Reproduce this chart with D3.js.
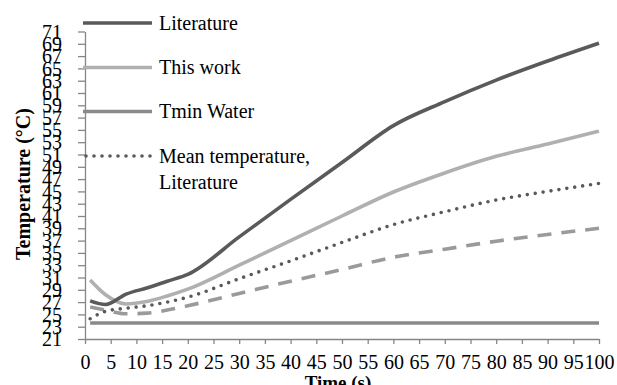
<!DOCTYPE html>
<html>
<head>
<meta charset="utf-8">
<script src="https://cdn.jsdelivr.net/npm/d3@7"></script>
<style>
  body { margin: 0; background: #fff; }
</style>
</head>
<body>
<div id="chart"></div>
<script>
// values
var timeLit = [1, 4, 8, 12, 16, 20, 30, 40, 50, 60, 70, 80, 90, 100];
var literature = [27.2, 26.6, 28.3, 29.3, 30.4, 31.5, 37.6, 43.7, 49.7, 55.7, 59.6, 63.1, 66.2, 69.1];
var thisWork = [30.6, 28.2, 26.7, 27.1, 28.0, 29.1, 33.0, 37.0, 41.0, 44.9, 48.0, 50.7, 52.7, 54.8];
var meanLit = [24.3, 25.5, 26.0, 26.4, 27.0, 27.8, 30.8, 33.7, 36.7, 39.6, 41.7, 43.6, 45.0, 46.3];
var meanWork = [26.2, 25.7, 25.1, 25.2, 25.7, 26.4, 28.4, 30.4, 32.3, 34.3, 35.6, 36.9, 38.0, 39.0];
var tminTime = [1, 100];
var tminWater = [23.6, 23.6];
var xTicks = d3.range(0, 101, 5);
var yTicks = d3.range(21, 72, 2);

var width = 617, height = 385;
var FONT = "'Liberation Serif', 'Times New Roman', Times, serif";

var svg = d3.select("#chart").append("svg")
    .attr("width", width)
    .attr("height", height);

var x = d3.scaleLinear().domain([0, 100]).range([85, 599]);
var y = d3.scaleLinear().domain([21, 71]).range([339, 31.5]);

// axes
var xAxis = svg.append("g")
    .attr("transform", "translate(0,339)")
    .call(d3.axisBottom(x).tickValues(xTicks).tickSize(5).tickSizeOuter(0).tickPadding(6));
xAxis.attr("font-family", null);
xAxis.selectAll("text").style("font-size", "20px").attr("dy", "0.95em");

var yAxis = svg.append("g")
    .attr("transform", "translate(85,0)")
    .call(d3.axisLeft(y).tickValues(yTicks).tickSize(7).tickSizeOuter(0).tickPadding(16));
yAxis.attr("font-family", null);
yAxis.selectAll("text").style("font-size", "20px").attr("dy", "0.33em");

svg.selectAll(".domain, .tick line").attr("stroke", "#868686").attr("stroke-width", 1.3);

svg.append("text")
    .attr("x", 338)
    .attr("y", 389)
    .attr("text-anchor", "middle")
    .style("font-size", "19px")
    .style("font-weight", "bold")
    .text("Time (s)");

svg.append("text")
    .attr("transform", "translate(30,184) rotate(-90)")
    .attr("text-anchor", "middle")
    .style("font-size", "20px")
    .style("font-weight", "bold")
    .text("Temperature (°C)");

// series
var series = [
    { t: tminTime, v: tminWater, color: "#8a8a8a", dash: null, cap: "butt" },
    { t: timeLit, v: meanWork, color: "#9a9a9a", dash: "14,10", cap: "butt" },
    { t: timeLit, v: meanLit, color: "#595959", dash: "0,8", cap: "round" },
    { t: timeLit, v: thisWork, color: "#b0b0b0", dash: null, cap: "butt" },
    { t: timeLit, v: literature, color: "#5a5a5a", dash: null, cap: "butt" }
];

var line = d3.line()
    .x(function(d) { return x(d[0]); })
    .y(function(d) { return y(d[1]); })
    .curve(d3.curveMonotoneX);

series.forEach(function(s) {
    svg.append("path")
        .datum(d3.zip(s.t, s.v))
        .attr("fill", "none")
        .attr("stroke", s.color)
        .attr("stroke-width", 3.6)
        .attr("stroke-linecap", s.cap)
        .attr("stroke-linejoin", "round")
        .attr("stroke-dasharray", s.dash)
        .attr("d", line);
});

// legend
var legend = [
    { label: ["Literature"], color: "#5a5a5a", dash: null, cap: "butt", y: 23 },
    { label: ["This work"], color: "#b0b0b0", dash: null, cap: "butt", y: 67.5 },
    { label: ["Tmin Water"], color: "#8a8a8a", dash: null, cap: "butt", y: 111.5 },
    { label: ["Mean temperature,", "Literature"], color: "#595959", dash: "0,8", cap: "round", y: 156 }
];

legend.forEach(function(l) {
    svg.append("line")
        .attr("x1", l.cap === "round" ? 86 : 83)
        .attr("x2", 152)
        .attr("y1", l.y)
        .attr("y2", l.y)
        .attr("stroke", l.color)
        .attr("stroke-width", 3.6)
        .attr("stroke-linecap", l.cap)
        .attr("stroke-dasharray", l.dash);
    l.label.forEach(function(txt, i) {
        svg.append("text")
            .attr("x", 159)
            .attr("y", l.y + i * 26)
            .attr("dy", "0.33em")
            .style("font-size", "20px")
            .text(txt);
    });
});

svg.selectAll("text").style("font-family", FONT).attr("fill", "#000");
</script>
</body>
</html>
